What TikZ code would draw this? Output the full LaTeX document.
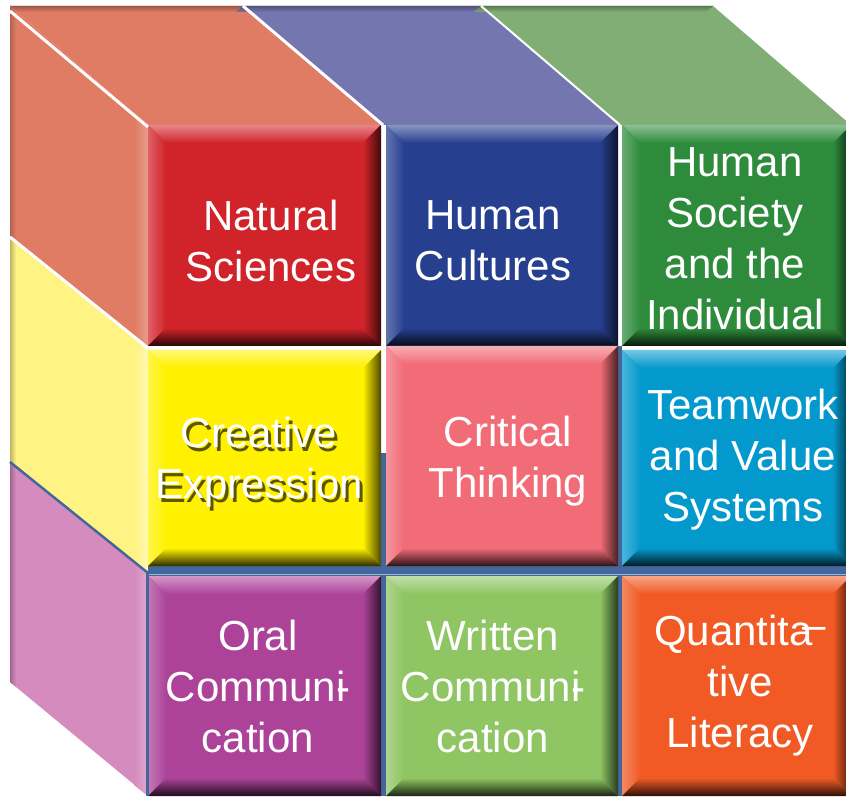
\documentclass[tikz,border=0pt]{standalone}
\usepackage{fontspec}
\setmainfont{Liberation Sans}
\definecolor{nsF}{HTML}{D1232A}
\definecolor{nsT}{HTML}{E07C64}
\definecolor{hcF}{HTML}{273F8F}
\definecolor{hcT}{HTML}{7476B0}
\definecolor{hsF}{HTML}{2E8B3C}
\definecolor{hsT}{HTML}{80AE74}
\definecolor{ceF}{HTML}{FFF100}
\definecolor{ceL}{HTML}{FFF383}
\definecolor{ctF}{HTML}{F16C77}
\definecolor{tvF}{HTML}{0499CD}
\definecolor{ocF}{HTML}{AC4399}
\definecolor{ocL}{HTML}{D68BBF}
\definecolor{wcF}{HTML}{8FC562}
\definecolor{qlF}{HTML}{F15A25}
\definecolor{seam}{HTML}{43679A}
\definecolor{seamlight}{HTML}{9DB3CF}
\newcommand\drawtile[5]{%
  \fill[#5] (#1,#2) rectangle (#3,#4);
  \shade[top color=#5!55!white, bottom color=#5] (#1,#4) -- (#3,#4) -- ({#3-18},{#4-18}) -- ({#1+18},{#4-18}) -- cycle;
  \shade[left color=#5!72!white, right color=#5] (#1,#2) -- (#1,#4) -- ({#1+18},{#4-18}) -- ({#1+18},{#2+18}) -- cycle;
  \shade[left color=#5, right color=#5!30!black] (#3,#2) -- (#3,#4) -- ({#3-18},{#4-18}) -- ({#3-18},{#2+18}) -- cycle;
  \shade[top color=#5, bottom color=#5!18!black] (#1,#2) -- (#3,#2) -- ({#3-18},{#2+18}) -- ({#1+18},{#2+18}) -- cycle;
}
\tikzset{
  label/.style={text=white, align=center, inner sep=0pt, font=\fontsize{42}{51}\selectfont},
  whiteline/.style={draw=white, line width=3pt},
  blueline/.style={draw=seam, line width=2.5pt},
}
\begin{document}
\begin{tikzpicture}[x=1pt,y=1pt]
\useasboundingbox (0,0) rectangle (846,796);
\fill[white] (0,0) rectangle (846,796);
\clip (0,0) rectangle (846,796);
% ---- top faces
\fill[nsT] (10,790) -- (243,790) -- (383,671) -- (148,671) -- cycle;
\fill[hcT] (243,790) -- (481,790) -- (620,671) -- (383,671) -- cycle;
\fill[hsT] (481,790) -- (713,790) -- (851,671) -- (620,671) -- cycle;
\shade[top color=nsT!70!black, bottom color=nsT] (10,790) -- (243,790) -- (236,784) -- (17,784) -- cycle;
\shade[top color=hcT!70!black, bottom color=hcT] (243,790) -- (481,790) -- (474,784) -- (236,784) -- cycle;
\shade[top color=hsT!70!black, bottom color=hsT] (481,790) -- (713,790) -- (706,784) -- (474,784) -- cycle;
% ---- left faces
\fill[nsT] (10,790) -- (148,671) -- (148,448) -- (10,559) -- cycle;
\fill[ceL] (10,559) -- (148,448) -- (148,223) -- (10,334) -- cycle;
\fill[ocL] (10,334) -- (148,223) -- (148,0) -- (10,114) -- cycle;
\shade[left color=nsT!80!black, right color=nsT] (10,790) -- (16,785) -- (16,554) -- (10,559) -- cycle;
\shade[left color=ceL!75!black, right color=ceL] (10,559) -- (16,554) -- (16,329) -- (10,334) -- cycle;
\shade[left color=ocL!75!black, right color=ocL] (10,334) -- (16,329) -- (16,109) -- (10,114) -- cycle;
\shade[left color=nsT, right color=nsT!75!white] (134,683) -- (148,671) -- (148,448) -- (134,459) -- cycle;
\shade[left color=ceL, right color=ceL!60!white] (134,459) -- (148,448) -- (148,223) -- (134,234) -- cycle;
\shade[left color=ocL, right color=ocL!75!white] (134,234) -- (148,223) -- (148,0) -- (134,11) -- cycle;
% ---- seams
\fill[seam] (148,0) rectangle (851,230);
\fill[seam] (618,0) rectangle (622,450);
\fill[seam] (381,0) rectangle (386,343);
\draw[seamlight, line width=1pt] (148,222) -- (851,222);
% ---- front tiles
\drawtile{148}{450}{381}{671}{nsF}
\drawtile{386}{450}{618}{671}{hcF}
\drawtile{622}{450}{851}{671}{hsF}
\drawtile{148}{230}{381}{446}{ceF}
\drawtile{386}{230}{618}{450}{ctF}
\drawtile{622}{230}{851}{446}{tvF}
\drawtile{148}{0}{381}{220}{ocF}
\drawtile{386}{0}{618}{220}{wcF}
\drawtile{622}{0}{851}{220}{qlF}
% ---- edge lines
\draw[whiteline] (10,785) -- (148,669);
\draw[whiteline] (243,790) -- (383,671);
\draw[whiteline, line width=2pt] (481,790) -- (620,671);
\draw[whiteline] (10,559) -- (148,448);
\draw[blueline] (10,334) -- (148,223);
\draw[blueline, line width=3pt] (147,223) -- (147,0);
% ---- labels
\node[label] (ns) at (271,555) {Natural\\Sciences};
\node[label] (hc) at (493,555) {Human\\Cultures};
\node[label] (hs) at (735,557) {Human\\Society\\and the\\Individual};
\node[label, text=black!75!ceF, opacity=0.85] (ceshadow) at (262,330) {Creative\\Expression};
\node[label] (ce) at (259,334) {Creative\\Expression};
\node[label] (ct) at (508,335) {Critical\\Thinking};
\node[label] (tv) at (743,336) {Teamwork\\and Value\\Systems};
\node[label] (oc) at (258,110) {Oral\\Communi\kern-0.22em-\\cation};
\node[label] (wc) at (493,110) {Written\\Communi\kern-0.22em-\\cation};
\node[label] (ql) at (740,110) {Quantita\kern-0.25em\raisebox{0.14em}{–}\\tive\\Literacy};
\end{tikzpicture}
\end{document}
